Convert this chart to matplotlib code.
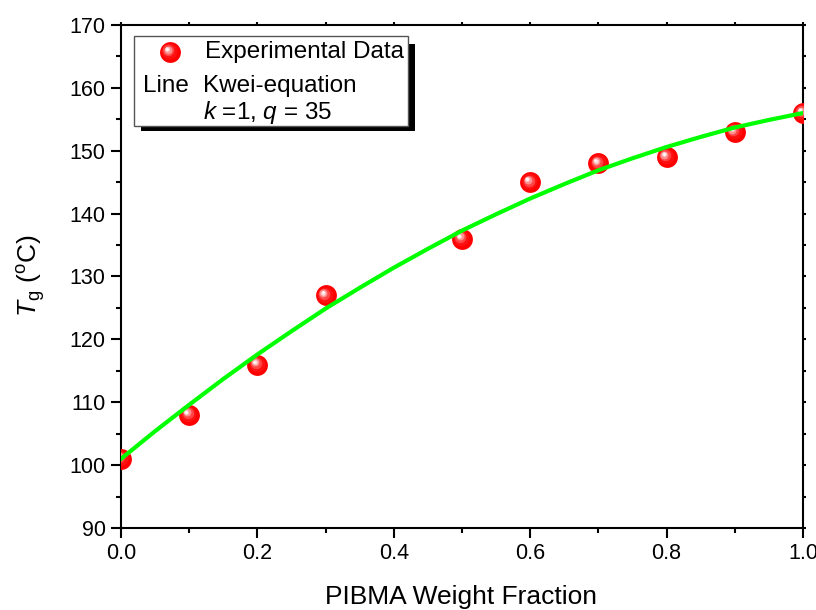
import numpy as np
import matplotlib.pyplot as plt
from matplotlib.patches import Rectangle
from matplotlib.transforms import offset_copy
from matplotlib.ticker import MultipleLocator

plt.rcParams['font.family'] = ['Liberation Sans', 'DejaVu Sans']
plt.rcParams['mathtext.fontset'] = 'custom'
plt.rcParams['mathtext.rm'] = 'Liberation Sans'
plt.rcParams['mathtext.it'] = 'Liberation Sans:italic'

# Experimental data
w_exp = [0.0, 0.1, 0.2, 0.3, 0.5, 0.6, 0.7, 0.8, 0.9, 1.0]
tg_exp = [101, 108, 116, 127, 136, 145, 148, 149, 153, 156]

# Kwei-equation curve
w_fit = [0.00, 0.05, 0.10, 0.15, 0.20, 0.25, 0.30, 0.35, 0.40, 0.45, 0.50,
         0.55, 0.60, 0.65, 0.70, 0.75, 0.80, 0.85, 0.90, 0.95, 1.00]
tg_fit = [101.0, 105.4, 109.6, 113.7, 117.6, 121.3, 124.9, 128.2, 131.4, 134.4, 137.3,
          139.9, 142.4, 144.7, 146.9, 148.8, 150.6, 152.2, 153.7, 154.9, 156.0]

W, H = 816, 610
fig = plt.figure(figsize=(W / 100, H / 100), dpi=100)
ax = fig.add_axes([121 / W, 1 - 528 / H, (803 - 121) / W, (528 - 25) / H])

# shading layers of the ball marker: size fraction, colour, offset to upper left
layers = [(1.00, '#ff0000', 0.0), (0.75, '#ff1010', 0.6), (0.55, '#ff4545', 1.2),
          (0.38, '#ff9090', 1.7), (0.22, '#ffdada', 2.0), (0.12, '#ffffff', 2.1)]

for frac, col, off in layers:
    tr = offset_copy(ax.transData, fig=fig, x=-off, y=off, units='points')
    ax.plot(w_exp, tg_exp, 'o', ms=15 * frac, color=col, mec='none', transform=tr, zorder=3)

ax.plot(w_fit, tg_fit, color='#00ff00', lw=3, zorder=4)

ax.set_xlim(0, 1)
ax.set_ylim(90, 170)
ax.xaxis.set_major_locator(MultipleLocator(0.2))
ax.xaxis.set_minor_locator(MultipleLocator(0.1))
ax.yaxis.set_major_locator(MultipleLocator(10))
ax.yaxis.set_minor_locator(MultipleLocator(5))
ax.set_xticklabels([f'{v:.1f}' for v in ax.get_xticks()])
for s in ax.spines.values():
    s.set_linewidth(1.5)
ax.tick_params(which='major', direction='out', length=7, width=1.5, labelsize=15.5, pad=4)
ax.tick_params(which='minor', direction='out', length=3.5, width=1.5)
ax.tick_params(which='both', top=True, right=True)
for t in ax.xaxis.get_major_ticks() + ax.xaxis.get_minor_ticks():
    t.tick2line.set_markersize(2)
for t in ax.yaxis.get_major_ticks() + ax.yaxis.get_minor_ticks():
    t.tick2line.set_markersize(2)

fig.text(461 / W, 1 - 597 / H, 'PIBMA Weight Fraction', ha='center', va='center', fontsize=19)
fig.text(32 / W, 1 - 276 / H, r'$T_{\rm g}$ ($^{\rm o}$C)', rotation=90, ha='center',
         va='center', fontsize=19)

# legend box with shadow
ft = fig.transFigure
fig.patches.append(Rectangle((141 / W, 1 - 131 / H), (415 - 141) / W, (131 - 44) / H,
                             transform=ft, facecolor='black', edgecolor='none', zorder=5))
fig.patches.append(Rectangle((134 / W, 1 - 126 / H), (408 - 134) / W, (126 - 36) / H,
                             transform=ft, facecolor='white', edgecolor='#555555', lw=1, zorder=6))
for frac, col, off in layers:
    tr = offset_copy(ft, fig=fig, x=-off, y=off, units='points')
    fig.lines.append(plt.Line2D([170 / W], [1 - 52 / H], marker='o', ls='none', ms=15 * frac,
                                color=col, mec='none', transform=tr, zorder=7))
fs = 17.5
fig.text(205 / W, 1 - 52 / H, 'Experimental Data', fontsize=fs, va='center', zorder=8)
fig.text(143 / W, 1 - 86 / H, 'Line', fontsize=fs, va='center', zorder=8)
fig.text(203 / W, 1 - 86 / H, 'Kwei-equation', fontsize=fs, va='center', zorder=8)
fig.text(203 / W, 1 - 113 / H, r'$k$ =1, $q$ = 35', fontsize=fs, va='center', zorder=8)

fig.savefig('out.png', dpi=100)
